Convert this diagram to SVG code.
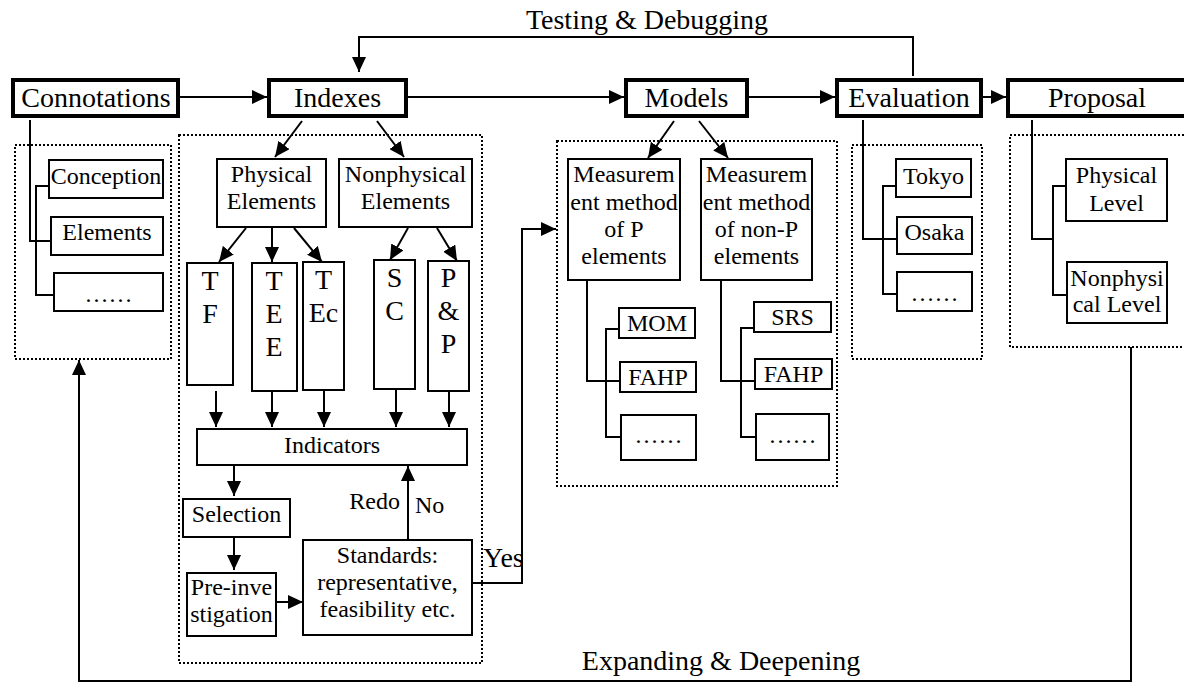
<svg xmlns="http://www.w3.org/2000/svg" width="1184" height="682" viewBox="0 0 1184 682">
<defs>
<marker id="ah" markerUnits="userSpaceOnUse" viewBox="0 0 15 14" refX="15" refY="7" markerWidth="15" markerHeight="14" orient="auto">
<path d="M0,0 L15,7 L0,14 z" fill="#000"/>
</marker>
</defs>
<style>
text{font-family:"Liberation Serif","Times New Roman",serif;fill:#000;text-anchor:middle}
.big{font-size:28px}
.sm{font-size:24px}
.thick{fill:#fff;stroke:#000;stroke-width:4}
.box{fill:#fff;stroke:#000;stroke-width:2}
.dot{fill:none;stroke:#000;stroke-width:2;stroke-dasharray:2 2}
.ln{fill:none;stroke:#000;stroke-width:2}
.ar{fill:none;stroke:#000;stroke-width:2;marker-end:url(#ah)}
</style>
<rect width="1184" height="682" fill="#fff"/>

<g id="containers">
<rect class="dot" x="15" y="145" width="156" height="214"/>
<rect class="dot" x="179" y="135" width="303" height="528"/>
<rect class="dot" x="557" y="141" width="280" height="345"/>
<rect class="dot" x="852" y="145" width="130" height="214"/>
<rect class="dot" x="1010" y="135" width="200" height="212"/>
</g>

<g id="connectors">
<line class="ar" x1="180" y1="97" x2="267" y2="97"/>
<line class="ar" x1="408" y1="97" x2="624" y2="97"/>
<line class="ar" x1="749" y1="97" x2="835" y2="97"/>
<line class="ar" x1="983" y1="97" x2="1006" y2="97"/>
<path class="ar" d="M913,76 V37 H359 V72"/>
<path class="ln" d="M30,120 V241 H51"/>
<path class="ln" d="M49,186 H36 V295 H54"/>
<line class="ar" x1="302" y1="121" x2="275" y2="157"/>
<line class="ar" x1="377" y1="121" x2="404" y2="157"/>
<line class="ar" x1="246" y1="228" x2="219" y2="262"/>
<line class="ar" x1="272" y1="228" x2="272" y2="262"/>
<line class="ar" x1="294" y1="228" x2="322" y2="262"/>
<line class="ar" x1="408" y1="228" x2="390" y2="260"/>
<line class="ar" x1="437" y1="228" x2="457" y2="261"/>
<line class="ar" x1="216" y1="391" x2="216" y2="427"/>
<line class="ar" x1="272" y1="391" x2="272" y2="427"/>
<line class="ar" x1="324" y1="390" x2="324" y2="427"/>
<line class="ar" x1="396" y1="390" x2="396" y2="427"/>
<line class="ar" x1="449" y1="391" x2="449" y2="427"/>
<line class="ar" x1="234" y1="465" x2="234" y2="496"/>
<line class="ar" x1="234" y1="537" x2="234" y2="570"/>
<line class="ar" x1="276" y1="602" x2="303" y2="602"/>
<line class="ar" x1="408" y1="540" x2="408" y2="466"/>
<path class="ar" d="M472,583 H522 V229 H556"/>
<line class="ar" x1="674" y1="121" x2="648" y2="158"/>
<line class="ar" x1="699" y1="121" x2="728" y2="158"/>
<path class="ln" d="M587,280 V381 H620"/>
<path class="ln" d="M619,329 H606 V437 H621"/>
<path class="ln" d="M721,280 V381 H755"/>
<path class="ln" d="M754,328 H741 V437 H756"/>
<path class="ln" d="M863,120 V239 H897"/>
<path class="ln" d="M896,186 H883 V294 H897"/>
<path class="ln" d="M1032,120 V239 H1053"/>
<path class="ln" d="M1066,186 H1053 V295 H1067"/>
<path class="ar" d="M1131,347 V681 H79 V360"/>
</g>

<g id="labels">
<text class="big" x="647" y="29">Testing &amp; Debugging</text>
<text class="big" x="721" y="670">Expanding &amp; Deepening</text>
<text class="sm" x="400" y="509" style="text-anchor:end">Redo</text>
<text class="sm" x="415" y="513" style="text-anchor:start">No</text>
<text class="big" x="483" y="567" style="text-anchor:start">Yes</text>
</g>

<g id="connotations"><rect class="thick" x="13" y="80" width="165" height="36"/><text class="big" x="96" y="107">Connotations</text></g>
<g id="indexes"><rect class="thick" x="269" y="80" width="137" height="36"/><text class="big" x="337.5" y="107">Indexes</text></g>
<g id="models"><rect class="thick" x="626" y="80" width="121" height="36"/><text class="big" x="686.5" y="107">Models</text></g>
<g id="evaluation"><rect class="thick" x="837" y="80" width="144" height="36"/><text class="big" x="909" y="107">Evaluation</text></g>
<g id="proposal"><rect class="thick" x="1008" y="80" width="200" height="36"/><text class="big" x="1097" y="107">Proposal</text></g>

<g id="conception"><rect class="box" x="49" y="160" width="114" height="38"/><text class="sm" x="106" y="184">Conception</text></g>
<g id="elements"><rect class="box" x="51" y="217" width="112" height="38"/><text class="sm" x="107" y="240">Elements</text></g>
<g id="conn-more"><rect class="box" x="54" y="273" width="109" height="38"/><text class="sm" x="108.5" y="302">……</text></g>

<g id="physical-elements"><rect class="box" x="217" y="159" width="109" height="68"/><text class="sm" x="271.5" y="182">Physical</text><text class="sm" x="271.5" y="209">Elements</text></g>
<g id="nonphysical-elements"><rect class="box" x="339" y="159" width="133" height="68"/><text class="sm" x="405.5" y="182">Nonphysical</text><text class="sm" x="405.5" y="209">Elements</text></g>
<g id="tf"><rect class="box" x="187" y="263" width="46" height="122"/><text class="big" x="210" y="290">T</text><text class="big" x="210" y="323">F</text></g>
<g id="tee"><rect class="box" x="252" y="263" width="45" height="128"/><text class="big" x="274" y="290">T</text><text class="big" x="274" y="323">E</text><text class="big" x="274" y="356">E</text></g>
<g id="tec"><rect class="box" x="303" y="262" width="41" height="128"/><text class="big" x="323.5" y="289">T</text><text class="big" x="323.5" y="322">Ec</text></g>
<g id="sc"><rect class="box" x="374" y="260" width="41" height="129"/><text class="big" x="394.5" y="287">S</text><text class="big" x="394.5" y="320">C</text></g>
<g id="pp"><rect class="box" x="428" y="261" width="41" height="130"/><text class="big" x="448.5" y="287">P</text><text class="big" x="448.5" y="320">&amp;</text><text class="big" x="448.5" y="353">P</text></g>
<g id="indicators"><rect class="box" x="197" y="429" width="270" height="36"/><text class="sm" x="332" y="453">Indicators</text></g>
<g id="selection"><rect class="box" x="183" y="499" width="107" height="38"/><text class="sm" x="236.5" y="522">Selection</text></g>
<g id="pre-investigation"><rect class="box" x="187" y="573" width="89" height="63"/><text class="sm" x="231.5" y="595">Pre-inve</text><text class="sm" x="231.5" y="622">stigation</text></g>
<g id="standards"><rect class="box" x="303" y="540" width="169" height="95"/><text class="sm" x="387.5" y="563">Standards:</text><text class="sm" x="387.5" y="590">representative,</text><text class="sm" x="387.5" y="617">feasibility etc.</text></g>

<g id="measure-p"><rect class="box" x="568" y="159" width="112" height="121"/><text class="sm" x="624" y="182">Measurem</text><text class="sm" x="624" y="210">ent method</text><text class="sm" x="624" y="237">of P</text><text class="sm" x="624" y="264">elements</text></g>
<g id="measure-np"><rect class="box" x="701" y="159" width="111" height="121"/><text class="sm" x="756.5" y="182">Measurem</text><text class="sm" x="756.5" y="210">ent method</text><text class="sm" x="756.5" y="237">of non-P</text><text class="sm" x="756.5" y="264">elements</text></g>
<g id="mom"><rect class="box" x="619" y="308" width="76" height="30"/><text class="sm" x="657" y="331">MOM</text></g>
<g id="fahp1"><rect class="box" x="620" y="362" width="76" height="30"/><text class="sm" x="658" y="385">FAHP</text></g>
<g id="p-more"><rect class="box" x="621" y="415" width="75" height="45"/><text class="sm" x="658.5" y="443">……</text></g>
<g id="srs"><rect class="box" x="754" y="302" width="77" height="30"/><text class="sm" x="792.5" y="325">SRS</text></g>
<g id="fahp2"><rect class="box" x="755" y="359" width="77" height="30"/><text class="sm" x="793.5" y="382">FAHP</text></g>
<g id="np-more"><rect class="box" x="756" y="414" width="73" height="46"/><text class="sm" x="792.5" y="443">……</text></g>

<g id="tokyo"><rect class="box" x="896" y="159" width="75" height="38"/><text class="sm" x="933.5" y="184">Tokyo</text></g>
<g id="osaka"><rect class="box" x="897" y="217" width="75" height="37"/><text class="sm" x="934.5" y="240">Osaka</text></g>
<g id="eval-more"><rect class="box" x="897" y="272" width="75" height="39"/><text class="sm" x="934.5" y="301">……</text></g>

<g id="physical-level"><rect class="box" x="1066" y="159" width="101" height="62"/><text class="sm" x="1116.5" y="183">Physical</text><text class="sm" x="1116.5" y="211">Level</text></g>
<g id="nonphysical-level"><rect class="box" x="1067" y="262" width="100" height="61"/><text class="sm" x="1117" y="286">Nonphysi</text><text class="sm" x="1117" y="312">cal Level</text></g>
</svg>
